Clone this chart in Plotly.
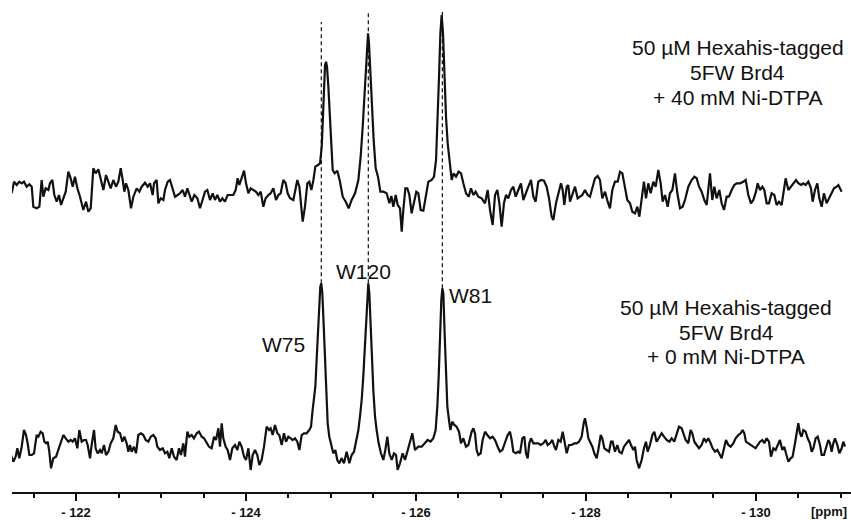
import plotly.graph_objects as go

# 19F NMR spectra of 5FW-labelled Brd4 (chemical shift in ppm, intensity in arbitrary units)
# upper spectrum: + 40 mM Ni-DTPA
top_spectrum = [
    (-121.243, -3.3), (-121.271, 8.3), (-121.302, 5.0), (-121.333, 8.3), (-121.361, 6.7),
    (-121.388, 8.3), (-121.420, 3.3), (-121.451, 5.7), (-121.479, 3.3), (-121.498, -16.7),
    (-121.537, -18.3), (-121.569, -16.7), (-121.596, 10.0), (-121.616, -6.7), (-121.643, 1.7),
    (-121.675, 0.0), (-121.694, 6.7), (-121.722, 10.0), (-121.745, -5.0), (-121.773, -11.7),
    (-121.800, -5.0), (-121.824, -15.0), (-121.851, -8.3), (-121.879, -1.7), (-121.910, 18.3),
    (-121.937, 11.7), (-121.961, 3.3), (-121.988, 13.3), (-122.016, 1.7), (-122.047, -6.7),
    (-122.086, -20.0), (-122.118, -11.7), (-122.145, -21.7), (-122.173, -18.3), (-122.204, 21.7),
    (-122.231, 16.7), (-122.263, 20.7), (-122.282, 13.3), (-122.322, 0.0), (-122.353, 15.0),
    (-122.381, 8.3), (-122.408, 1.7), (-122.439, 10.0), (-122.471, 3.3), (-122.498, 8.3),
    (-122.526, 21.7), (-122.549, 10.0), (-122.569, -1.7), (-122.588, 6.7), (-122.616, 0.0),
    (-122.647, -18.3), (-122.675, -6.7), (-122.714, 1.7), (-122.745, -1.7), (-122.773, 3.3),
    (-122.812, 7.3), (-122.843, 3.3), (-122.871, 6.7), (-122.902, -5.0), (-122.918, 6.7),
    (-122.949, 10.0), (-122.969, -13.3), (-122.996, -8.3), (-123.028, -10.0), (-123.047, 0.0),
    (-123.079, 8.3), (-123.106, 10.0), (-123.137, 0.0), (-123.165, -6.7), (-123.196, -5.0),
    (-123.224, -3.3), (-123.255, 0.0), (-123.282, -6.7), (-123.310, 1.7), (-123.333, -5.0),
    (-123.361, -11.7), (-123.392, -5.0), (-123.428, -8.3), (-123.459, -18.3), (-123.486, -11.7),
    (-123.518, -1.7), (-123.545, 0.0), (-123.577, -10.0), (-123.608, -3.3), (-123.635, -10.0),
    (-123.663, -5.0), (-123.694, -11.7), (-123.722, -8.3), (-123.753, -11.7), (-123.784, -5.0),
    (-123.820, -5.0), (-123.851, -5.0), (-123.879, 0.0), (-123.902, 11.7), (-123.922, 5.0),
    (-123.945, 11.7), (-123.977, 19.3), (-124.000, 6.7), (-124.028, -3.3), (-124.055, 1.7),
    (-124.086, 0.0), (-124.118, -1.7), (-124.145, -5.0), (-124.173, -1.7), (-124.204, -16.7),
    (-124.231, -8.3), (-124.263, -5.0), (-124.290, -3.3), (-124.322, 1.7), (-124.353, -10.0),
    (-124.381, -5.0), (-124.408, -3.3), (-124.439, 10.0), (-124.467, 6.7), (-124.490, -3.3),
    (-124.518, -8.3), (-124.557, -10.0), (-124.581, 0.0), (-124.604, 10.0), (-124.628, 3.3),
    (-124.647, -16.7), (-124.667, -31.7), (-124.694, -16.7), (-124.722, 6.7), (-124.745, 8.3),
    (-124.769, 0.0), (-124.793, 10.0), (-124.816, 23.3), (-124.847, 25.0), (-124.871, 26.7),
    (-124.891, 43.3), (-124.906, 80.0), (-124.918, 106.7), (-124.930, 125.0), (-124.942, 128.3),
    (-124.953, 123.3), (-124.969, 103.3), (-124.985, 76.7), (-125.000, 50.0), (-125.020, 20.0),
    (-125.043, 16.7), (-125.075, 19.3), (-125.106, 8.3), (-125.138, -6.7), (-125.173, -11.7),
    (-125.208, -18.3), (-125.243, -10.0), (-125.283, -3.3), (-125.322, 10.0), (-125.349, 33.3),
    (-125.373, 63.3), (-125.393, 93.3), (-125.408, 116.7), (-125.424, 143.3), (-125.436, 156.7),
    (-125.447, 146.7), (-125.463, 116.7), (-125.483, 80.0), (-125.502, 50.0), (-125.526, 21.7),
    (-125.553, 13.3), (-125.581, -1.7), (-125.616, -1.7), (-125.655, -3.3), (-125.687, -13.3),
    (-125.710, -6.0), (-125.734, -16.7), (-125.761, -5.0), (-125.785, -15.0), (-125.812, -18.3),
    (-125.832, -41.7), (-125.851, -20.0), (-125.875, 1.7), (-125.898, 1.7), (-125.922, -5.0),
    (-125.949, -23.3), (-125.977, -13.3), (-126.004, -1.7), (-126.028, -3.3), (-126.055, -20.0),
    (-126.087, -20.7), (-126.118, -3.3), (-126.145, 8.3), (-126.185, 10.0), (-126.212, 13.3),
    (-126.236, 30.0), (-126.255, 70.0), (-126.271, 113.3), (-126.287, 156.7), (-126.302, 175.0),
    (-126.318, 156.7), (-126.334, 116.7), (-126.353, 73.3), (-126.373, 46.7), (-126.396, 26.7),
    (-126.420, 10.0), (-126.443, 16.7), (-126.471, 13.3), (-126.502, 18.3), (-126.530, 16.7),
    (-126.557, 6.7), (-126.589, -3.3), (-126.620, -6.7), (-126.647, 1.7), (-126.675, -5.0),
    (-126.702, -1.7), (-126.733, -6.7), (-126.773, -8.3), (-126.812, -13.3), (-126.843, 0.0),
    (-126.871, -20.0), (-126.902, -35.0), (-126.930, -5.0), (-126.957, 0.0), (-126.981, -13.3),
    (-127.008, -36.7), (-127.035, -13.3), (-127.059, -5.0), (-127.086, -8.3), (-127.118, 0.0),
    (-127.145, 3.3), (-127.173, -6.7), (-127.204, 0.0), (-127.235, 6.7), (-127.263, -10.0),
    (-127.290, -3.3), (-127.322, 3.3), (-127.353, 10.0), (-127.381, -6.7), (-127.408, -11.7),
    (-127.439, 8.3), (-127.471, 10.0), (-127.506, 9.3), (-127.537, 3.3), (-127.565, -8.3),
    (-127.596, -26.7), (-127.616, -30.0), (-127.647, -13.3), (-127.675, -3.3), (-127.706, 6.7),
    (-127.726, 0.0), (-127.745, -15.0), (-127.773, 3.3), (-127.792, 5.0), (-127.812, -11.7),
    (-127.839, -5.0), (-127.871, 3.3), (-127.902, -8.3), (-127.930, -6.7), (-127.957, -5.0),
    (-127.988, 0.0), (-128.020, -5.0), (-128.047, -6.7), (-128.079, 3.3), (-128.106, 11.7),
    (-128.137, 14.0), (-128.165, 10.0), (-128.192, -8.3), (-128.224, -1.7), (-128.255, -11.7),
    (-128.282, -18.3), (-128.310, 0.0), (-128.341, 8.3), (-128.373, 8.3), (-128.400, 18.3),
    (-128.428, 16.7), (-128.459, 3.3), (-128.486, -10.0), (-128.518, -13.3), (-128.545, -21.7),
    (-128.577, -23.3), (-128.604, -16.7), (-128.628, -26.7), (-128.655, -10.0), (-128.682, 8.3),
    (-128.706, -8.3), (-128.733, 6.7), (-128.761, -3.3), (-128.792, 8.3), (-128.820, 3.3),
    (-128.851, 20.0), (-128.879, 6.7), (-128.902, -11.7), (-128.930, -5.0), (-128.961, -16.7),
    (-128.988, -3.3), (-129.016, 0.0), (-129.047, 16.7), (-129.075, -3.3), (-129.106, -18.3),
    (-129.137, -16.7), (-129.165, -10.0), (-129.204, 3.3), (-129.243, 10.0), (-129.275, 13.3),
    (-129.302, 11.7), (-129.330, 3.3), (-129.361, -1.7), (-129.392, -10.0), (-129.420, -15.0),
    (-129.439, 0.0), (-129.459, 16.7), (-129.486, -10.0), (-129.510, 3.3), (-129.537, -8.3),
    (-129.569, 0.0), (-129.596, -13.3), (-129.624, -20.0), (-129.655, -6.7), (-129.682, -6.7),
    (-129.714, 0.0), (-129.745, 5.0), (-129.773, 6.7), (-129.812, 6.7), (-129.851, 8.3),
    (-129.879, 10.0), (-129.910, -5.0), (-129.941, -13.3), (-129.969, -10.0), (-130.000, -1.7),
    (-130.020, 6.7), (-130.047, 0.0), (-130.075, 3.3), (-130.098, 0.0), (-130.126, -13.3),
    (-130.153, -13.3), (-130.184, -3.3), (-130.216, -5.0), (-130.243, -15.0), (-130.271, -11.7),
    (-130.302, -15.0), (-130.330, 1.7), (-130.349, 11.7), (-130.381, 0.0), (-130.408, 3.3),
    (-130.439, 6.7), (-130.471, 10.0), (-130.498, 6.7), (-130.530, 5.0), (-130.557, 6.7),
    (-130.584, 5.0), (-130.616, 8.3), (-130.647, 1.7), (-130.667, -11.7), (-130.694, 0.0),
    (-130.722, 6.7), (-130.745, -8.3), (-130.773, -16.7), (-130.800, -3.3), (-130.831, -13.3),
    (-130.859, -8.3), (-130.890, -3.3), (-130.918, 1.7), (-130.949, 3.3), (-130.969, 5.0),
    (-130.988, 1.7), (-131.008, -1.7),
]

# lower spectrum: + 0 mM Ni-DTPA
bottom_spectrum = [
    (-121.235, -15.0), (-121.263, -21.7), (-121.290, -16.7), (-121.310, -8.3), (-121.333, -18.3),
    (-121.361, -6.7), (-121.388, 10.0), (-121.412, 5.0), (-121.431, -3.3), (-121.451, -15.0),
    (-121.479, -15.0), (-121.506, -13.3), (-121.537, 5.0), (-121.557, 3.3), (-121.584, 8.3),
    (-121.608, 6.7), (-121.628, -1.7), (-121.647, -3.3), (-121.667, -1.7), (-121.686, -11.7),
    (-121.706, -28.3), (-121.733, -18.3), (-121.765, -16.7), (-121.792, -10.0), (-121.824, -1.7),
    (-121.851, 5.0), (-121.879, 1.7), (-121.910, -1.7), (-121.937, 0.0), (-121.961, -1.7),
    (-121.988, 1.7), (-122.016, -8.3), (-122.039, 10.0), (-122.067, -1.7), (-122.094, 0.0),
    (-122.118, 0.0), (-122.137, -5.0), (-122.165, -18.3), (-122.184, -5.0), (-122.212, 10.0),
    (-122.231, -8.3), (-122.255, -13.3), (-122.282, -10.0), (-122.302, -13.3), (-122.330, -5.0),
    (-122.353, -15.0), (-122.381, -11.7), (-122.408, -3.3), (-122.439, 1.7), (-122.467, 15.0),
    (-122.490, 8.3), (-122.518, 6.7), (-122.545, -1.7), (-122.569, 3.3), (-122.596, -3.3),
    (-122.616, -11.7), (-122.635, -5.0), (-122.655, -11.7), (-122.682, -6.7), (-122.706, -13.3),
    (-122.733, 5.0), (-122.765, 6.7), (-122.792, 5.0), (-122.820, 0.0), (-122.851, -1.7),
    (-122.879, 3.3), (-122.910, 5.0), (-122.937, 1.7), (-122.957, -6.7), (-122.988, -10.0),
    (-123.020, -8.3), (-123.047, -13.3), (-123.075, -11.7), (-123.098, -18.3), (-123.126, -8.3),
    (-123.153, -16.7), (-123.184, -20.0), (-123.212, -8.3), (-123.235, -15.0), (-123.263, -3.3),
    (-123.282, -16.7), (-123.310, 8.3), (-123.333, 3.3), (-123.361, 5.0), (-123.388, 1.7),
    (-123.420, 6.7), (-123.447, 8.3), (-123.479, 3.3), (-123.506, 1.7), (-123.537, -3.3),
    (-123.565, -6.7), (-123.596, -8.3), (-123.624, 3.3), (-123.647, 0.0), (-123.675, 11.7),
    (-123.694, -6.7), (-123.714, 16.7), (-123.733, 1.7), (-123.761, -6.7), (-123.784, -10.0),
    (-123.812, -20.0), (-123.839, -8.3), (-123.871, -5.0), (-123.898, -10.0), (-123.922, -1.7),
    (-123.949, -6.7), (-123.977, -16.7), (-124.000, -20.0), (-124.028, -8.3), (-124.055, -30.0),
    (-124.079, -15.0), (-124.106, -10.0), (-124.133, -15.0), (-124.157, -25.0), (-124.184, -20.0),
    (-124.212, -6.7), (-124.243, 13.3), (-124.271, 10.0), (-124.290, 11.7), (-124.314, 5.0),
    (-124.341, 15.0), (-124.369, 6.7), (-124.392, 5.0), (-124.420, -5.0), (-124.447, 6.7),
    (-124.471, -1.7), (-124.498, 3.3), (-124.526, 1.7), (-124.549, 0.0), (-124.577, 1.7),
    (-124.604, -1.7), (-124.628, -10.0), (-124.655, 5.0), (-124.682, 6.7), (-124.714, 6.7),
    (-124.745, 10.0), (-124.765, 13.3), (-124.784, 30.0), (-124.800, 41.7), (-124.816, 53.3),
    (-124.831, 80.0), (-124.847, 113.3), (-124.863, 140.0), (-124.874, 153.3), (-124.886, 156.7),
    (-124.898, 146.7), (-124.910, 123.3), (-124.925, 90.0), (-124.941, 50.0), (-124.961, 16.7),
    (-124.980, 3.3), (-125.008, -6.7), (-125.027, -13.3), (-125.051, -10.0), (-125.074, -20.0),
    (-125.098, -23.3), (-125.125, -18.3), (-125.153, -23.3), (-125.184, -11.7), (-125.216, -23.3),
    (-125.243, -15.0), (-125.271, -11.7), (-125.294, -3.3), (-125.322, 10.0), (-125.341, 23.3),
    (-125.361, 40.0), (-125.380, 63.3), (-125.400, 96.7), (-125.416, 130.0), (-125.427, 150.0),
    (-125.439, 156.7), (-125.451, 146.7), (-125.467, 120.0), (-125.482, 83.3), (-125.498, 50.0),
    (-125.518, 23.3), (-125.537, 10.0), (-125.561, -3.3), (-125.588, -13.3), (-125.616, -20.0),
    (-125.639, -10.0), (-125.663, 3.3), (-125.686, -13.3), (-125.714, -20.0), (-125.741, -13.3),
    (-125.765, -15.0), (-125.784, -30.0), (-125.812, -23.3), (-125.843, -13.3), (-125.871, -20.0),
    (-125.898, -11.7), (-125.929, -3.3), (-125.957, 6.7), (-125.988, -10.0), (-126.027, -6.7),
    (-126.067, -6.7), (-126.098, -3.3), (-126.137, 0.0), (-126.172, -1.7), (-126.204, 1.7),
    (-126.231, 10.0), (-126.251, 33.3), (-126.267, 63.3), (-126.282, 103.3), (-126.298, 140.0),
    (-126.310, 151.7), (-126.322, 146.7), (-126.337, 106.7), (-126.353, 63.3), (-126.369, 33.3),
    (-126.388, 20.0), (-126.404, 10.0), (-126.427, 18.3), (-126.451, 15.0), (-126.478, 13.3),
    (-126.506, 8.3), (-126.529, -3.3), (-126.557, 1.7), (-126.588, -6.7), (-126.616, -5.0),
    (-126.655, 8.3), (-126.675, 11.7), (-126.694, 6.7), (-126.714, -10.0), (-126.733, -15.0),
    (-126.761, -13.3), (-126.784, 0.0), (-126.812, 8.3), (-126.839, 5.0), (-126.871, 1.7),
    (-126.902, 3.3), (-126.930, 0.0), (-126.961, -6.7), (-126.988, -11.7), (-127.016, -10.0),
    (-127.047, -1.7), (-127.079, 5.0), (-127.106, 8.3), (-127.126, 0.0), (-127.145, -11.7),
    (-127.173, -13.3), (-127.204, -11.7), (-127.224, -13.3), (-127.251, 1.7), (-127.275, 3.3),
    (-127.294, -13.3), (-127.314, -18.3), (-127.333, -3.3), (-127.353, 1.7), (-127.381, -3.3),
    (-127.408, -3.3), (-127.439, -3.3), (-127.467, -5.0), (-127.498, -3.3), (-127.526, 0.0),
    (-127.549, -5.0), (-127.577, -3.3), (-127.604, 0.0), (-127.628, -6.7), (-127.647, -10.0),
    (-127.675, 0.0), (-127.702, -1.7), (-127.726, 8.3), (-127.745, -1.7), (-127.773, -13.3),
    (-127.800, -5.0), (-127.831, -5.0), (-127.863, -3.3), (-127.890, -3.3), (-127.918, -1.7),
    (-127.949, 3.3), (-127.973, 16.7), (-127.988, 21.7), (-128.008, 13.3), (-128.028, 1.7),
    (-128.047, -1.7), (-128.075, -6.7), (-128.098, -13.3), (-128.126, -18.3), (-128.145, -10.0),
    (-128.173, 5.0), (-128.192, 1.7), (-128.216, -8.3), (-128.243, -10.0), (-128.271, -11.7),
    (-128.294, -1.7), (-128.314, -1.7), (-128.341, -11.7), (-128.369, -5.0), (-128.392, -11.7),
    (-128.420, -13.3), (-128.447, -6.7), (-128.479, -3.3), (-128.506, 0.0), (-128.530, -5.0),
    (-128.557, -10.0), (-128.577, -6.7), (-128.596, -20.0), (-128.624, -28.3), (-128.655, -20.0),
    (-128.682, -8.3), (-128.706, -1.7), (-128.726, -11.7), (-128.753, -5.0), (-128.781, 5.0),
    (-128.804, 8.3), (-128.831, -1.7), (-128.859, 1.7), (-128.890, 6.7), (-128.918, 3.3),
    (-128.949, 0.0), (-128.981, -1.7), (-129.008, 1.7), (-129.039, -1.7), (-129.067, 6.7),
    (-129.094, 13.3), (-129.126, 11.7), (-129.145, 6.7), (-129.173, 0.0), (-129.204, -3.3),
    (-129.231, 10.0), (-129.251, 6.7), (-129.275, -1.7), (-129.302, -5.0), (-129.330, -8.3),
    (-129.361, -5.0), (-129.388, 1.7), (-129.412, -1.7), (-129.439, 1.7), (-129.467, -3.3),
    (-129.490, -8.3), (-129.518, -11.7), (-129.545, -10.0), (-129.577, -15.0), (-129.596, -18.3),
    (-129.624, -8.3), (-129.647, 0.0), (-129.675, -5.0), (-129.702, -6.7), (-129.733, -3.3),
    (-129.761, 1.7), (-129.792, 5.0), (-129.820, 6.7), (-129.843, 10.0), (-129.863, 6.7),
    (-129.882, -1.7), (-129.910, -3.3), (-129.941, -5.0), (-129.969, -6.7), (-129.996, -8.3),
    (-130.020, -5.0), (-130.047, -1.7), (-130.075, 0.0), (-130.098, -3.3), (-130.126, 1.7),
    (-130.153, -1.7), (-130.177, -16.7), (-130.204, -8.3), (-130.231, -10.0), (-130.255, -5.0),
    (-130.282, 0.0), (-130.310, -10.0), (-130.333, -6.7), (-130.353, -13.3), (-130.381, -21.7),
    (-130.408, -18.3), (-130.431, -16.7), (-130.459, -3.3), (-130.479, 10.0), (-130.498, 16.7),
    (-130.518, 6.7), (-130.537, 3.3), (-130.557, 10.0), (-130.584, 8.3), (-130.608, 1.7),
    (-130.635, -3.3), (-130.655, -11.7), (-130.675, -8.3), (-130.702, 1.7), (-130.726, 3.3),
    (-130.753, -5.0), (-130.773, -15.0), (-130.800, -15.0), (-130.824, -6.7), (-130.851, 0.0),
    (-130.871, -3.3), (-130.890, -11.7), (-130.910, -3.3), (-130.930, 1.7), (-130.957, -5.0),
    (-130.981, -13.3), (-131.008, -8.3), (-131.028, -1.7), (-131.047, -6.7),
]

# assigned tryptophan resonances (shift of the peak maximum in the lower spectrum)
peak_names = ["W75", "W120", "W81"]
peak_shifts = [-124.886, -125.439, -126.310]

tick_values = [-122, -124, -126, -128, -130]
tick_labels = ["- 122", "- 124", "- 126", "- 128", "- 130"]

top_caption = ["50 µM Hexahis-tagged", "5FW Brd4", "+ 40 mM Ni-DTPA"]
bottom_caption = ["50 µM Hexahis-tagged", "5FW Brd4", "+ 0 mM Ni-DTPA"]

# vertical stacking of the two spectra
STACK_OFFSET = 250
INK = "#111111"
FONT = "Liberation Sans, Arial, Helvetica, sans-serif"

top_x = [p for p, _ in top_spectrum]
top_y = [v + STACK_OFFSET for _, v in top_spectrum]
bot_x = [p for p, _ in bottom_spectrum]
bot_y = [v for _, v in bottom_spectrum]

fig = go.Figure()
fig.add_trace(go.Scatter(x=top_x, y=top_y, mode="lines",
                         line=dict(color=INK, width=2.2), hoverinfo="skip"))
fig.add_trace(go.Scatter(x=bot_x, y=bot_y, mode="lines",
                         line=dict(color=INK, width=2.2), hoverinfo="skip"))

# dashed guides from each lower-spectrum peak up through the upper spectrum
guide_tops = [418, 427, 428]
for shift, gtop in zip(peak_shifts, guide_tops):
    peak_height = max(v for p, v in bottom_spectrum if abs(p - shift) < 0.02)
    fig.add_trace(go.Scatter(x=[shift, shift], y=[peak_height, gtop], mode="lines",
                             line=dict(color=INK, width=1.2, dash="4px,3px"),
                             hoverinfo="skip"))

annotations = []
# peak labels
label_pos = {"W75": (-124.439, 95.7), "W120": (-125.385, 168.5), "W81": (-126.647, 144.2)}
for name in peak_names:
    lx, ly = label_pos[name]
    annotations.append(dict(x=lx, y=ly, xref="x", yref="y", text=name, showarrow=False,
                            xanchor="center", yanchor="middle",
                            font=dict(family=FONT, size=21, color=INK)))

# sample captions
for lines, cx, ys in [(top_caption, -129.788, [392.3, 367.3, 342.3]),
                      (bottom_caption, -129.650, [132.3, 107.5, 83.3])]:
    for txt, yy in zip(lines, ys):
        annotations.append(dict(x=cx, y=yy, xref="x", yref="y", text=txt, showarrow=False,
                                xanchor="center", yanchor="middle",
                                font=dict(family=FONT, size=21, color=INK)))

# axis unit
annotations.append(dict(x=0.974, y=-0.040, xref="paper", yref="paper", text="[ppm]",
                        showarrow=False, xanchor="center", yanchor="middle",
                        font=dict(family=FONT, size=13, color=INK, weight="bold")))

fig.update_layout(
    width=851, height=520,
    margin=dict(l=12, r=0, t=0, b=28),
    paper_bgcolor="white", plot_bgcolor="white",
    showlegend=False,
    annotations=annotations,
    xaxis=dict(
        range=[-121.247, -131.118],
        showgrid=False, zeroline=False,
        showline=True, linecolor=INK, linewidth=2,
        ticks="outside", ticklen=7, tickwidth=2, tickcolor=INK,
        tickmode="array", tickvals=tick_values, ticktext=tick_labels,
        tickfont=dict(family=FONT, size=13, color=INK, weight="bold"),
        minor=dict(ticks="outside", ticklen=4, tickwidth=2, tickcolor=INK,
                   tickmode="linear", tick0=-122, dtick=0.5, showgrid=False),
    ),
    yaxis=dict(visible=False, range=[-52, 440], fixedrange=True),
)

fig.write_html("out.html")
